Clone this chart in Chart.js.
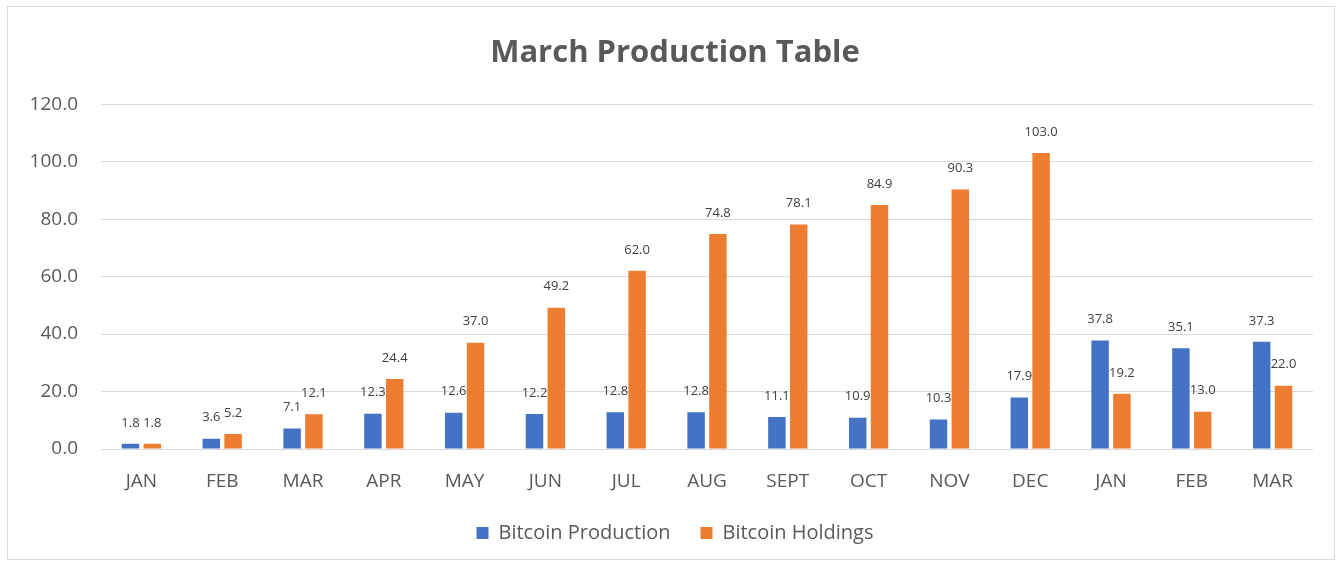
<!DOCTYPE html>
<html>
<head>
<meta charset="utf-8">
<script src="https://cdn.jsdelivr.net/npm/chart.js@4"></script>
<style>
  body { margin: 0; background: #fff; }
  #box {
    position: absolute; left: 7px; top: 6px;
    width: 1328px; height: 554px;
    border: 1px solid #d9d9d9; box-sizing: border-box;
  }
</style>
</head>
<body>
<div id="box"><canvas id="myChart"></canvas></div>
<script>
const months = ['JAN','FEB','MAR','APR','MAY','JUN','JUL','AUG','SEPT','OCT','NOV','DEC','JAN','FEB','MAR'];
const production = [1.8, 3.6, 7.1, 12.3, 12.6, 12.2, 12.8, 12.8, 11.1, 10.9, 10.3, 17.9, 37.8, 35.1, 37.3];
const holdings = [1.8, 5.2, 12.1, 24.4, 37.0, 49.2, 62.0, 74.8, 78.1, 84.9, 90.3, 103.0, 19.2, 13.0, 22.0];
const yTicks = [0, 20, 40, 60, 80, 100, 120];

const fontFam = "'Open Sans', sans-serif";
const grey = '#595959';

// values above each bar, like excel data labels
const barLabels = {
  id: 'barLabels',
  afterDatasetsDraw(chart) {
    const ctx = chart.ctx;
    ctx.save();
    ctx.font = '13px ' + fontFam;
    ctx.fillStyle = '#404040';
    ctx.textAlign = 'center';
    ctx.textBaseline = 'middle';
    chart.data.datasets.forEach((ds, i) => {
      chart.getDatasetMeta(i).data.forEach((bar, j) => {
        ctx.fillText(ds.data[j].toFixed(1), bar.x, bar.y - 21);
      });
    });
    ctx.restore();
  }
};

const ctx = document.getElementById('myChart');

new Chart(ctx, {
  type: 'bar',
  data: {
    labels: months,
    datasets: [
      { label: 'Bitcoin Production', data: production, backgroundColor: '#4472C4' },
      { label: 'Bitcoin Holdings', data: holdings, backgroundColor: '#ED7D31' }
    ]
  },
  plugins: [barLabels],
  options: {
    responsive: true,
    maintainAspectRatio: false,
    animation: false,
    datasets: { bar: { categoryPercentage: 0.54, barPercentage: 0.8 } },
    layout: { padding: { left: 8, right: 0, top: 0, bottom: 6 } },
    plugins: {
      title: {
        display: true,
        text: 'March Production Table',
        color: grey,
        font: { family: fontFam, size: 31, weight: 'bold' },
        padding: { top: 28, bottom: 32 }
      },
      legend: {
        position: 'bottom',
        labels: {
          color: grey,
          font: { family: fontFam, size: 20 },
          boxWidth: 12, boxHeight: 12,
          padding: 30
        }
      },
      tooltip: { enabled: false }
    },
    scales: {
      x: {
        grid: { display: false, drawTicks: false },
        border: { display: false },
        ticks: { color: grey, font: { family: fontFam, size: 19 }, padding: 21 },
        afterFit(scale) { scale.height = 44; }
      },
      y: {
        min: 0, max: 120,
        grid: { color: '#d9d9d9', drawTicks: false },
        border: { display: false },
        afterBuildTicks(scale) { scale.ticks = yTicks.map(v => ({ value: v })); },
        ticks: {
          color: grey,
          font: { family: fontFam, size: 19 },
          padding: 23,
          callback: v => v.toFixed(1)
        },
        afterFit(scale) { scale.width = 85; }
      },
      // empty right-hand strip so the plot stops short of the frame
      yRight: {
        position: 'right',
        grid: { display: false },
        border: { display: false },
        ticks: { display: false },
        afterFit(scale) { scale.width = 21; }
      }
    }
  }
});
</script>
</body>
</html>
